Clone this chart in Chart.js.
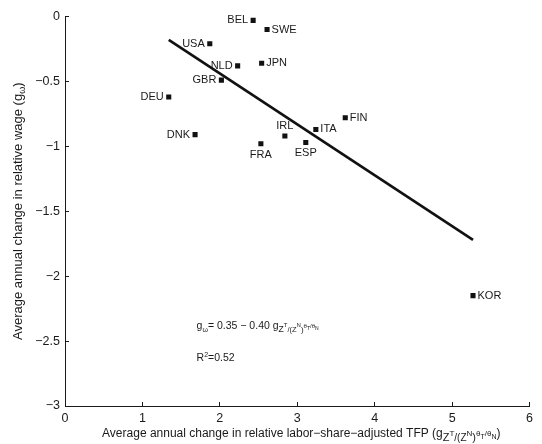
<!DOCTYPE html>
<html>
<head>
<meta charset="utf-8">
<script src="https://cdn.jsdelivr.net/npm/chart.js@4"></script>
<style>
  html, body { margin: 0; padding: 0; background: #fff; }
  canvas { display: block; }
</style>
</head>
<body>
<canvas id="grafico" width="542" height="444"></canvas>
<script>
const countries = ['BEL', 'SWE', 'USA', 'NLD', 'JPN', 'GBR', 'DEU', 'FIN', 'ITA', 'IRL', 'DNK', 'FRA', 'ESP', 'KOR'];
const tfpGrowth = [2.43, 2.61, 1.87, 2.23, 2.54, 2.02, 1.34, 3.62, 3.24, 2.84, 1.68, 2.53, 3.11, 5.27];
const wageGrowth = [-0.03, -0.10, -0.21, -0.38, -0.36, -0.49, -0.62, -0.78, -0.87, -0.92, -0.91, -0.98, -0.97, -2.15];

// fitted line g = 0.35 - 0.40 x, drawn between the end points
const fitX = [1.34, 5.27];
const fitY = [-0.18, -1.72];

const xTicks = [0, 1, 2, 3, 4, 5, 6];
const yTicks = [0, -0.5, -1, -1.5, -2, -2.5, -3];

const FONT = "'Liberation Sans', Arial, sans-serif";
const INK = '#1a1a1a';

const labelSide = {
    BEL: 'left', SWE: 'right', USA: 'left', NLD: 'left', JPN: 'right', GBR: 'left', DEU: 'left',
    FIN: 'right', ITA: 'right', IRL: 'above', DNK: 'left', FRA: 'below', ESP: 'below', KOR: 'right'
};

// draws pieces of text with their own size and vertical shift; returns width
function runs(ctx, parts, x, y, draw) {
    let cx = x;
    parts.forEach(p => {
        ctx.font = p[1] + 'px ' + FONT;
        if (draw) ctx.fillText(p[0], cx, y + p[2]);
        cx += ctx.measureText(p[0]).width;
    });
    return cx - x;
}

const xTitle = [
    ['Average annual change in relative labor\u2212share\u2212adjusted TFP (g', 12, 0],
    ['Z', 11, 4], ['T', 8, -1], ['/(Z', 10, 4], ['N', 8, -1], [')', 11, 4],
    ['\u03b8', 8, -1], ['T', 7, 2], ['/\u03b8', 8, -1], ['N', 7, 2], [')', 12, 0]
];
const yTitle = [
    ['Average annual change in relative wage (g', 13, 0], ['\u03c9', 9, 3], [')', 13, 0]
];
const eqLine = [
    ['g', 10.5, 0], ['\u03c9', 7, 3], ['= 0.35 \u2212 0.40 g', 10.5, 0],
    ['Z', 8.5, 3], ['T', 6, -2], ['/(Z', 7.5, 3], ['N', 6, -2], [')', 8, 3],
    ['\u03b8', 6, -1], ['T', 5, 1], ['/\u03b8', 6, -1], ['N', 5, 1]
];
const r2Line = [['R', 10.5, 0], ['2', 7, -4], ['=0.52', 10.5, 0]];

const textPlugin = {
    id: 'textos',
    afterDraw(chart) {
        const ctx = chart.ctx;
        const a = chart.chartArea;
        const sx = chart.scales.x, sy = chart.scales.y;
        ctx.save();
        ctx.fillStyle = INK;

        // country labels next to their markers
        const meta = chart.getDatasetMeta(0);
        ctx.font = '11px ' + FONT;
        meta.data.forEach((pt, i) => {
            const side = labelSide[countries[i]];
            let x = pt.x, y = pt.y;
            ctx.textBaseline = 'middle';
            if (side === 'left') { ctx.textAlign = 'right'; x -= 5; }
            else if (side === 'right') { ctx.textAlign = 'left'; x += 4.5; }
            else if (side === 'above') { ctx.textAlign = 'center'; y -= 10; }
            else { ctx.textAlign = 'center'; y += 11; }
            ctx.fillText(countries[i], x, y);
        });

        ctx.textAlign = 'left';
        ctx.textBaseline = 'alphabetic';

        // regression note
        runs(ctx, eqLine, sx.getPixelForValue(1.7), sy.getPixelForValue(-2.41), true);
        runs(ctx, r2Line, sx.getPixelForValue(1.7), sy.getPixelForValue(-2.65), true);

        // x title
        const wx = runs(ctx, xTitle, 0, 0, false);
        runs(ctx, xTitle, (a.left + a.right) / 2 + 4 - wx / 2, 437, true);

        // y title, rotated
        const wy = runs(ctx, yTitle, 0, 0, false);
        ctx.translate(22, (a.top + a.bottom) / 2);
        ctx.rotate(-Math.PI / 2);
        runs(ctx, yTitle, -wy / 2, 0, true);
        ctx.restore();
    }
};

const minus = v => String(v).replace('-', '\u2212');

new Chart(document.getElementById('grafico'), {
    type: 'scatter',
    data: {
        datasets: [{
            data: tfpGrowth.map((v, i) => ({ x: v, y: wageGrowth[i] })),
            pointStyle: 'rect',
            pointRadius: 3.6,
            backgroundColor: '#111',
            borderWidth: 0
        }, {
            type: 'line',
            data: fitX.map((v, i) => ({ x: v, y: fitY[i] })),
            borderColor: '#111',
            borderWidth: 2.6,
            pointRadius: 0,
            fill: false
        }]
    },
    options: {
        responsive: false,
        animation: false,
        devicePixelRatio: 1,
        layout: { padding: { left: 0, right: 3, top: 15, bottom: 0 } },
        plugins: {
            legend: { display: false },
            tooltip: { enabled: false }
        },
        scales: {
            x: {
                type: 'linear',
                min: 0, max: 6,
                afterBuildTicks: s => { s.ticks = xTicks.map(v => ({ value: v })); },
                afterFit: s => { s.height = 38; },
                grid: { drawOnChartArea: false, tickLength: -4, color: INK },
                border: { color: INK, width: 1 },
                ticks: { color: INK, padding: 9, font: { family: FONT, size: 12.5 }, maxRotation: 0, callback: minus }
            },
            y: {
                type: 'linear',
                min: -3, max: 0,
                afterBuildTicks: s => { s.ticks = yTicks.map(v => ({ value: v })); },
                afterFit: s => { s.width = 65; },
                grid: { drawOnChartArea: false, tickLength: -4, color: INK },
                border: { color: INK, width: 1 },
                ticks: { color: INK, padding: 9, font: { family: FONT, size: 12.5 }, callback: minus }
            }
        }
    },
    plugins: [textPlugin]
});
</script>
</body>
</html>
